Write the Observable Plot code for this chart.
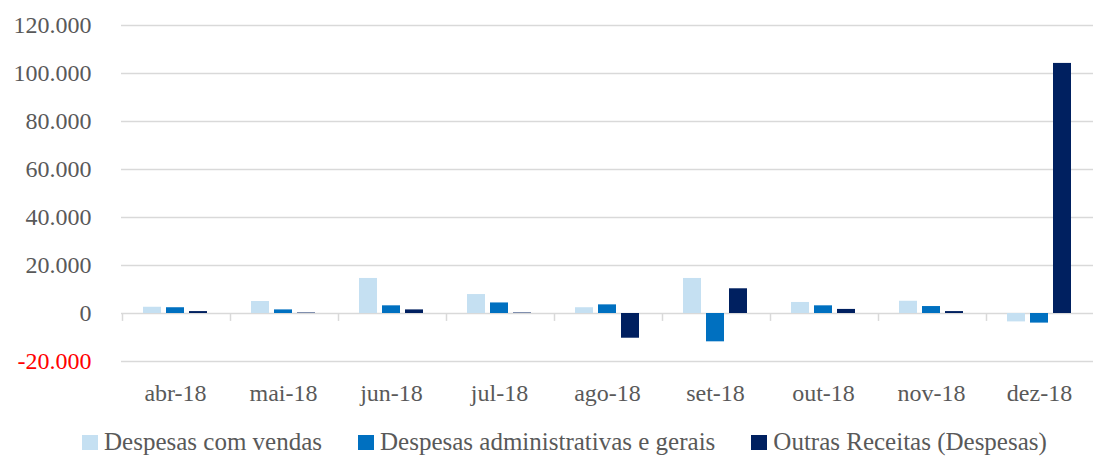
<!DOCTYPE html>
<html>
<head>
<meta charset="utf-8">
<script src="https://cdn.jsdelivr.net/npm/d3@7"></script>
<script src="https://cdn.jsdelivr.net/npm/@observablehq/plot@0.6"></script>
<style>
  html, body { margin: 0; padding: 0; background: #fff; }
  #chart { width: 1093px; }
  #chart svg, #chart svg text { font-family: "Liberation Serif", "Times New Roman", serif; }
  .legend { display: flex; align-items: center; height: 34px; padding-left: 82px; gap: 36px;
            font-family: "Liberation Serif", "Times New Roman", serif; font-size: 25px; color: #595959; }
  .item { display: flex; align-items: center; gap: 6px; white-space: nowrap; }
  .sw { width: 16px; height: 15px; display: inline-block; }
</style>
</head>
<body>
<div id="chart"></div>
<script>
const months = ["abr-18", "mai-18", "jun-18", "jul-18", "ago-18", "set-18", "out-18", "nov-18", "dez-18"];
const seriesNames = ["Despesas com vendas", "Despesas administrativas e gerais", "Outras Receitas (Despesas)"];
const vendas = [2600, 5000, 14600, 7900, 2400, 14600, 4600, 5100, -3500];
const administrativas = [2400, 1500, 3200, 4400, 3600, -11800, 3200, 2900, -4000];
const outras = [800, 200, 1500, 200, -10300, 10300, 1700, 800, 104200];
const colors = ["#c5e0f2", "#0070c0", "#002060"];
const yTicks = [0, 20000, 40000, 60000, 80000, 100000, 120000];
const yNegTicks = [-20000];

const seriesValues = [vendas, administrativas, outras];
const rows = [];
months.forEach((m, i) => seriesValues.forEach((vals, s) => rows.push({month: m, series: seriesNames[s], value: vals[i]})));

const fmt = d3.formatLocale({decimal: ",", thousands: ".", grouping: [3], currency: ["", ""], minus: "-"}).format(",.0f");

const plot = Plot.plot({
  width: 1093,
  height: 425,
  marginTop: 25,
  marginBottom: 64,
  marginLeft: 120,
  marginRight: 0,
  style: "font-family: 'Liberation Serif', 'Times New Roman', serif; font-size: 24px; color: #595959; background: #fff;",
  fx: {domain: months, paddingInner: 0, paddingOuter: 0, label: null},
  x: {domain: seriesNames, paddingInner: 0.21, paddingOuter: 0.9, axis: null},
  y: {domain: [-20000, 120000], label: null},
  color: {domain: seriesNames, range: colors},
  marks: [
    Plot.gridY([...yNegTicks, ...yTicks], {stroke: "#d9d9d9", strokeOpacity: 1, strokeWidth: 1.5}),
    Plot.ruleX(months, {fx: d => d, x: () => seriesNames[0], y1: 0, y2: -3300, dx: -30, stroke: "#d9d9d9", strokeWidth: 1.5}),
    Plot.barY(rows, {fx: "month", x: "series", y: "value", fill: "series"}),
    Plot.axisY({ticks: yTicks, tickSize: 0, tickPadding: 30, tickFormat: fmt, fontSize: 24, fill: "#595959", label: null}),
    Plot.axisY({ticks: yNegTicks, tickSize: 0, tickPadding: 30, tickFormat: fmt, fontSize: 24, fill: "#ff0000", label: null}),
    Plot.axisFx({anchor: "bottom", tickSize: 0, tickPadding: 22, fontSize: 24, fill: "#595959", label: null})
  ]
});
document.getElementById("chart").appendChild(plot);

const legend = document.createElement("div");
legend.className = "legend";
seriesNames.forEach((name, i) => {
  const item = document.createElement("div");
  item.className = "item";
  const sw = document.createElement("span");
  sw.className = "sw";
  sw.style.background = colors[i];
  const label = document.createElement("span");
  label.textContent = name;
  item.appendChild(sw);
  item.appendChild(label);
  legend.appendChild(item);
});
document.getElementById("chart").appendChild(legend);
</script>
</body>
</html>
